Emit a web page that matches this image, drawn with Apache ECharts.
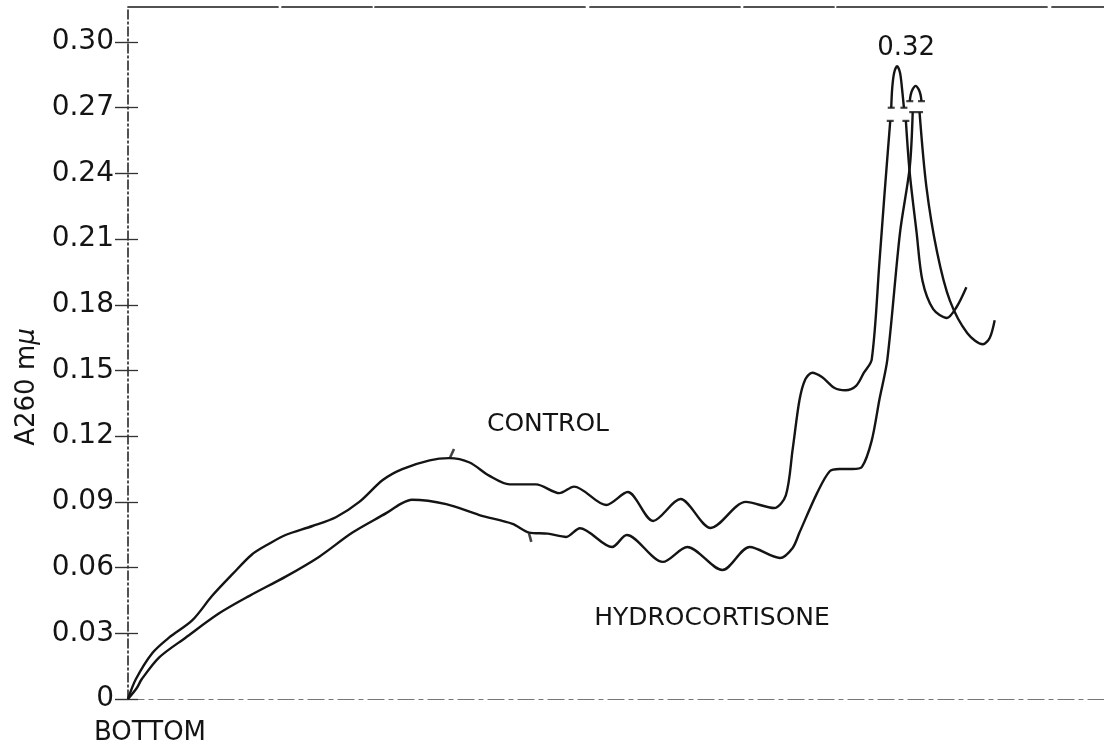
<!DOCTYPE html>
<html>
<head>
<meta charset="utf-8">
<script src="https://cdn.jsdelivr.net/npm/echarts@6/dist/echarts.min.js"></script>
<style>
  html, body { margin: 0; padding: 0; background: #fff; }
  #chart { width: 1104px; height: 753px; }
</style>
</head>
<body>
<div id="chart"></div>
<script>
// Absorbance at 260 mμ across the gradient, from the bottom of the tube (x = 0)
const Y_TICKS = [0, 0.03, 0.06, 0.09, 0.12, 0.15, 0.18, 0.21, 0.24, 0.27, 0.30];
const Y_MAX = 0.316;
const X_MAX = 100;

// '-' marks the break where the main peak runs off scale
const CONTROL = [
  [0, 0], [0.8, 0.009], [2.5, 0.021], [4.2, 0.028], [6.6, 0.036], [8.6, 0.047],
  [10.7, 0.057], [12.7, 0.066], [14.5, 0.071], [16.2, 0.075], [18.9, 0.079],
  [21.3, 0.083], [23.7, 0.090], [26.1, 0.100], [28.1, 0.105], [30.9, 0.109],
  [32.9, 0.110], [35.0, 0.108], [37.0, 0.102], [39.1, 0.098], [41.8, 0.098],
  [44.2, 0.094], [45.7, 0.097], [49.0, 0.0886], [51.2, 0.0945], [53.8, 0.0813],
  [56.6, 0.0913], [59.7, 0.0781], [63.3, 0.090], [66.2, 0.0872], [67.4, 0.093],
  [68.1, 0.114], [68.8, 0.1365], [69.4, 0.146], [70.1, 0.149], [71.1, 0.147],
  [72.4, 0.142], [73.5, 0.141], [74.6, 0.143], [75.4, 0.149], [76.2, 0.155],
  [77.0, 0.200], [77.5, 0.230], [78.1, 0.264],
  [78.15, '-'],
  [78.2, 0.270], [78.3, 0.279], [78.5, 0.286], [78.8, 0.289], [79.1, 0.286],
  [79.3, 0.279], [79.5, 0.270],
  [79.6, '-'],
  [79.7, 0.264], [80.1, 0.240], [80.8, 0.213], [81.4, 0.191], [82.5, 0.178],
  [83.9, 0.174], [84.9, 0.179], [85.9, 0.188]
];

const HYDROCORTISONE = [
  [0, 0], [0.9, 0.005], [1.4, 0.009], [3.2, 0.019], [5.9, 0.028], [9.3, 0.039],
  [12.4, 0.047], [16.2, 0.056], [19.6, 0.065], [23.0, 0.076], [26.5, 0.085],
  [27.9, 0.089], [29.1, 0.091], [32.6, 0.089], [36.0, 0.084], [39.4, 0.080],
  [41.1, 0.076], [43.0, 0.0755], [44.9, 0.074], [46.3, 0.078], [49.6, 0.0694],
  [51.1, 0.0749], [54.8, 0.0626], [57.3, 0.0694], [60.9, 0.0589], [63.7, 0.0694],
  [66.8, 0.0644], [68.1, 0.069], [68.8, 0.076], [70.6, 0.094], [71.9, 0.104],
  [72.9, 0.105], [74.2, 0.105], [75.2, 0.106], [76.2, 0.118], [77.0, 0.137],
  [77.8, 0.155], [79.1, 0.213], [80.1, 0.243], [80.4, 0.268],
  [80.3, '-'],
  [80.1, 0.273], [80.2, 0.276], [80.4, 0.2785], [80.7, 0.280], [81.0, 0.2785],
  [81.2, 0.276], [81.3, 0.273],
  [81.2, '-'],
  [81.1, 0.268], [81.8, 0.234], [82.9, 0.204], [84.2, 0.182], [86.0, 0.167],
  [87.6, 0.162], [88.3, 0.165], [88.8, 0.173]
];

// Short bars closing each side of the scale break
const BREAK_ENDS = [
  [78.1, 0.264], [78.2, 0.270], [79.5, 0.270], [79.7, 0.264],
  [80.4, 0.268], [80.1, 0.273], [81.3, 0.273], [81.1, 0.268]
];

// Small event ticks drawn on each trace
const CONTROL_MARK = [32.9, 0.110];
const HYDRO_MARK = [41.1, 0.076];

// True height of the off-scale control peak
const CONTROL_PEAK_VALUE = 0.32;
const CONTROL_PEAK_TOP = [78.8, 0.289];

const FONT = '"DejaVu Sans", "Liberation Sans", sans-serif';
const INK = '#141414';

const chart = echarts.init(document.getElementById('chart'), null, { renderer: 'canvas' });

const traceStyle = { color: INK, width: 2.4 };

chart.setOption({
  animation: false,
  backgroundColor: '#ffffff',
  grid: { left: 128, right: 0, top: 7, bottom: 54, containLabel: false },
  xAxis: [
    {
      type: 'value', min: 0, max: X_MAX, position: 'bottom',
      axisLine: { show: true, onZero: false, lineStyle: { color: '#777', width: 1.2, type: [16, 5, 4, 5] } },
      axisTick: { show: false }, axisLabel: { show: false }, splitLine: { show: false }
    },
    {
      type: 'value', min: 0, max: X_MAX, position: 'top',
      axisLine: { show: true, onZero: false, lineStyle: { color: '#1a1a1a', width: 1.7, type: [150, 4, 90, 3, 210, 5] } },
      axisTick: { show: false }, axisLabel: { show: false }, splitLine: { show: false }
    }
  ],
  yAxis: [
    {
      type: 'value', min: 0, max: Y_MAX, position: 'left',
      axisLine: { show: true, onZero: false, lineStyle: { color: '#1a1a1a', width: 1.5, type: [9, 3, 2, 3] } },
      axisTick: { show: true, inside: true, length: 10, customValues: Y_TICKS,
                  lineStyle: { color: '#333', width: 1.3 } },
      axisLabel: {
        show: true, customValues: Y_TICKS, margin: 14,
        fontFamily: FONT, fontSize: 28, color: INK,
        formatter: v => (v === 0 ? '0' : v.toFixed(2))
      },
      splitLine: { show: false }
    },
    {
      type: 'value', min: 0, max: Y_MAX, position: 'right',
      axisLine: { show: false },
      axisTick: { show: true, inside: true, length: 13, customValues: Y_TICKS,
                  lineStyle: { color: '#333', width: 1.4 } },
      axisLabel: { show: false }, splitLine: { show: false }
    }
  ],
  series: [
    {
      name: 'CONTROL', type: 'line', data: CONTROL,
      smooth: 0.3, showSymbol: false, symbol: 'none', connectNulls: false,
      lineStyle: traceStyle,
      markPoint: {
        symbol: 'circle', symbolSize: 0,
        data: [{ coord: CONTROL_PEAK_TOP }],
        label: {
          show: true, position: 'inside', offset: [9, -18],
          formatter: () => CONTROL_PEAK_VALUE.toFixed(2),
          fontFamily: FONT, fontSize: 26, color: INK
        }
      }
    },
    {
      name: 'HYDROCORTISONE', type: 'line', data: HYDROCORTISONE,
      smooth: 0.3, showSymbol: false, symbol: 'none', connectNulls: false,
      lineStyle: traceStyle
    },
    {
      type: 'scatter', data: BREAK_ENDS, symbol: 'rect', symbolSize: [7, 2.2],
      itemStyle: { color: INK }, silent: true, z: 3
    },
    {
      type: 'scatter', silent: true, z: 3,
      data: [
        { value: CONTROL_MARK, symbolOffset: [3, -5], symbolRotate: -25 },
        { value: HYDRO_MARK, symbolOffset: [1, 5], symbolRotate: 15 }
      ],
      symbol: 'rect', symbolSize: [2.6, 9], itemStyle: { color: INK }
    }
  ],
  graphic: [
    {
      type: 'text', x: 27, y: 387, rotation: Math.PI / 2,
      style: {
        text: 'A260 m{mu|μ}', align: 'center', verticalAlign: 'middle',
        font: '26px ' + FONT, fill: INK,
        rich: { mu: { fontFamily: FONT, fontSize: 26, fontStyle: 'italic', fill: INK } }
      }
    },
    {
      type: 'text', x: 150, y: 733,
      style: { text: 'BOTTOM', align: 'center', verticalAlign: 'middle', font: '26px ' + FONT, fill: INK }
    },
    {
      type: 'text', x: 548, y: 424,
      style: { text: 'CONTROL', align: 'center', verticalAlign: 'middle', font: '25px ' + FONT, fill: INK }
    },
    {
      type: 'text', x: 712, y: 618,
      style: { text: 'HYDROCORTISONE', align: 'center', verticalAlign: 'middle', font: '25px ' + FONT, fill: INK }
    }
  ]
});
</script>
</body>
</html>
